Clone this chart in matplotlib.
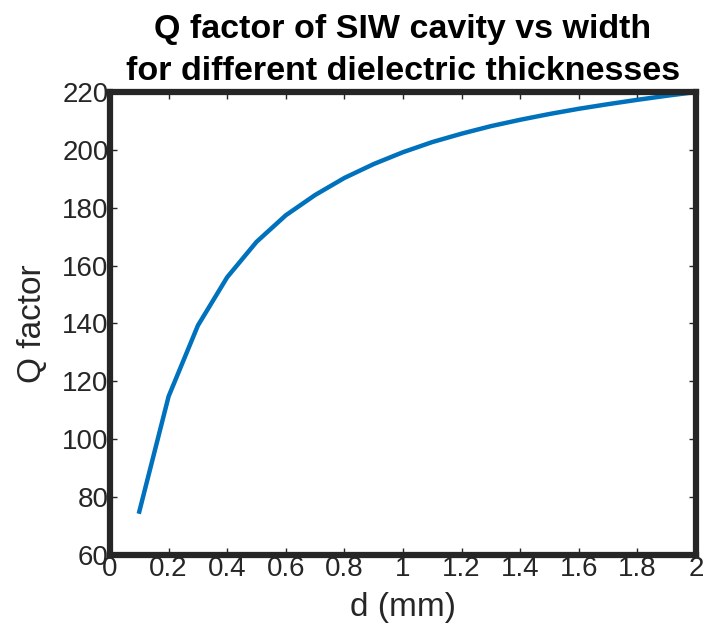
import matplotlib
matplotlib.use("Agg")
import matplotlib.pyplot as plt

d_mm = [0.1, 0.2, 0.3, 0.4, 0.5, 0.6, 0.7, 0.8, 0.9, 1.0,
        1.1, 1.2, 1.3, 1.4, 1.5, 1.6, 1.7, 1.8, 1.9, 2.0]
q_factor = [75.0, 114.8, 139.3, 156.0, 168.2, 177.4, 184.4, 190.3, 195.1, 199.2,
            202.7, 205.6, 208.2, 210.4, 212.4, 214.2, 215.8, 217.3, 218.7, 220.0]

xticks = [0, 0.2, 0.4, 0.6, 0.8, 1, 1.2, 1.4, 1.6, 1.8, 2]
xticklabels = ["0", "0.2", "0.4", "0.6", "0.8", "1", "1.2", "1.4", "1.6", "1.8", "2"]
yticks = [60, 80, 100, 120, 140, 160, 180, 200, 220]

plt.rcParams['font.family'] = ['Liberation Sans', 'DejaVu Sans']

fig = plt.figure(figsize=(7.04, 6.27), dpi=100)
ax = fig.add_axes([110/704, 1 - 555/627, (696-110)/704, (555-92)/627])

ax.plot(d_mm, q_factor, color='#0072BD', linewidth=3.2, solid_joinstyle='miter')

ax.set_xlim(0, 2)
ax.set_ylim(60, 220)
ax.set_xticks(xticks)
ax.set_xticklabels(xticklabels)
ax.set_yticks(yticks)

for s in ax.spines.values():
    s.set_linewidth(4.5)
    s.set_color('#262626')

ax.tick_params(direction='in', length=5, width=1, colors='#262626',
               labelsize=20, top=True, right=True, pad=1)
for lab in ax.get_xticklabels() + ax.get_yticklabels():
    lab.set_color('#262626')

ax.set_xlabel('d (mm)', fontsize=24, color='#262626', labelpad=7)
ax.set_ylabel('Q factor', fontsize=24, color='#262626', labelpad=10)
ax.set_title('Q factor of SIW cavity vs width\nfor different dielectric thicknesses',
             fontsize=24.5, fontweight='bold', color='black', pad=9, linespacing=1.45)

fig.savefig('out.png', dpi=100)
